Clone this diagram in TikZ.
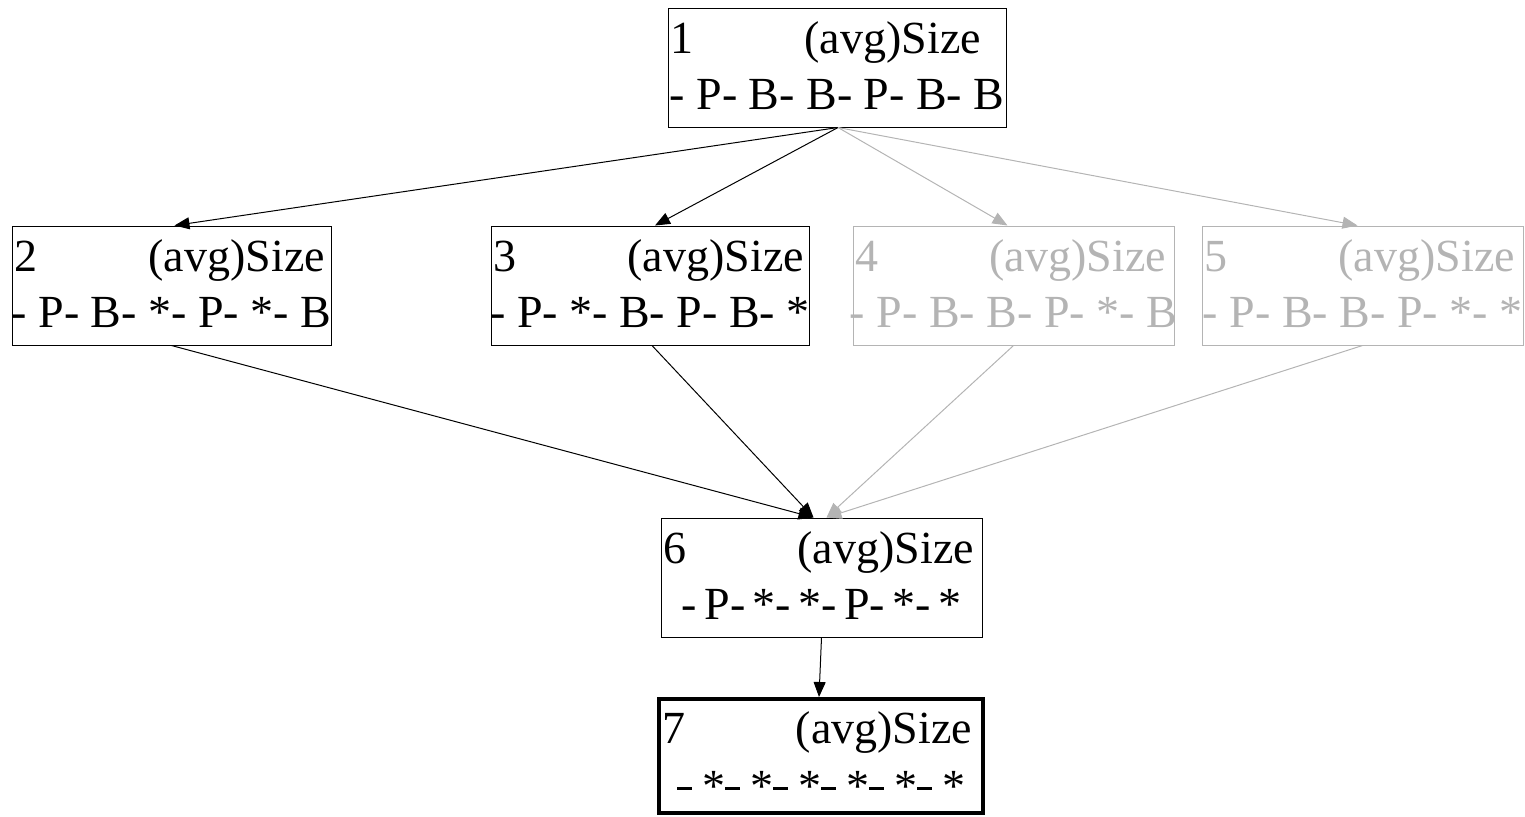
\documentclass[tikz,border=0pt]{standalone}
\usepackage{fontspec}
\setmainfont{Liberation Serif}
\usetikzlibrary{arrows.meta,calc}
\definecolor{lgray}{RGB}{180,180,180}
\tikzset{
  box/.style={draw, rectangle, inner sep=0pt, line width=0.5pt},
  thickbox/.style={line width=2pt},
  txt/.style={inner sep=0pt, font=\fontsize{23pt}{27pt}\selectfont},
  faded/.style={color=lgray},
  edge/.style={line width=0.5pt, -{Triangle[length=7.5pt,width=6pt]}},
}
\newcommand\us{\rule[5.6pt]{7.5pt}{1.5pt}}
\newcommand\latnode[8]{%
  % #1 name, #2 style, #3 centre, #4 width px, #5 height px, #6 number, #7 row 2, #8 row-2 baseline offset
  \node[box,#2,minimum width=#4*0.5pt,minimum height=#5*0.5pt] (#1) at #3 {};
  \node[txt,#2,anchor=base west] (#1a) at ($(#1.north west)+(3,46)$) {\makebox[155pt][s]{#6\hfill(avg)Size}};
  \node[txt,#2,anchor=base] (#1b) at ($(#1.north)+(0,#8)$) {#7};
}
\begin{document}
\begin{tikzpicture}[x=0.5pt,y=-0.5pt]
\useasboundingbox (0,0) rectangle (1525,816);
\latnode{n1}{}{(837,67.5)}{338}{119}{1}{- P- B- B- P- B- B}{102}
\latnode{n2}{}{(171.5,285.5)}{319}{119}{2}{- P- B- *- P- *- B}{102}
\latnode{n3}{}{(650,285.5)}{318}{119}{3}{- P- *- B- P- B- *}{102}
\latnode{n4}{faded}{(1013.5,285.5)}{321}{119}{4}{- P- B- B- P- *- B}{102}
\latnode{n5}{faded}{(1362.5,285.5)}{321}{119}{5}{- P- B- B- P- *- *}{102}
\latnode{n6}{}{(821.5,577.5)}{321}{119}{6}{\spaceskip=0.16em- P- *- *- P- *- *}{102}
\latnode{n7}{thickbox}{(821,756)}{324}{114}{7}{\spaceskip=5pt\us{} *\us{} *\us{} *\us{} *\us{} *\us{} *}{104}
% connectors
\coordinate (t3) at ($(n3.north)+(5,0)$);
\coordinate (t4) at ($(n4.north)+(-6,0)$);
\coordinate (t5) at ($(n5.north)+(-5,0)$);
\coordinate (t6a) at ($(n6.north)+(-8,0)$);
\coordinate (t6b) at ($(n6.north)+(5,0)$);
\coordinate (s1) at ($(n1.south)+(1,0)$);
\draw[edge] (s1) -- ($(n2.north)+(3,0)$);
\draw[edge] (s1) -- (t3);
\draw[edge,lgray] (s1) -- (t4);
\draw[edge,lgray] (s1) -- (t5);
\draw[edge] (n2.south) -- (t6a);
\draw[edge] ($(n3.south)+(2,0)$) -- (t6a);
\draw[edge,lgray] (n4.south) -- (t6b);
\draw[edge,lgray] (n5.south) -- (t6b);
\draw[edge] (n6.south) -- ($(n7.north)+(-2,0)$);
\end{tikzpicture}
\end{document}
